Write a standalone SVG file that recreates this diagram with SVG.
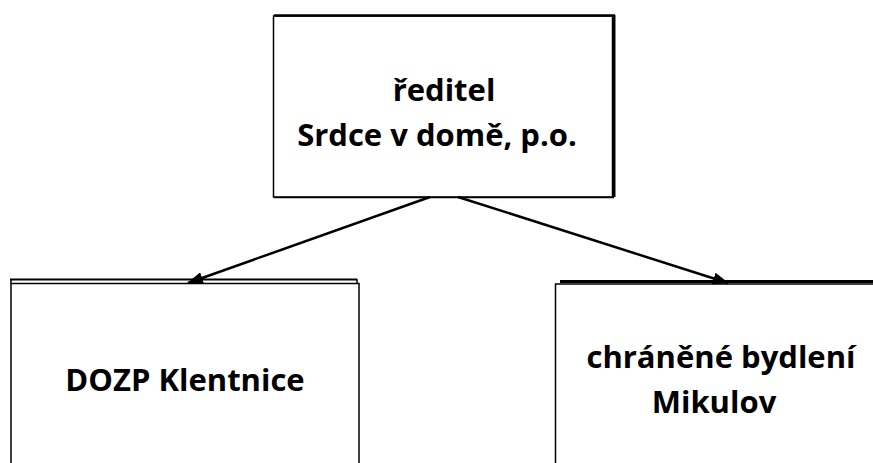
<svg xmlns="http://www.w3.org/2000/svg" width="873" height="463" viewBox="0 0 873 463">
<style>
.box{fill:#fff;stroke:#000;stroke-width:1.5}
.edge{stroke:#000;stroke-width:2.5;fill:none}
.t{font-family:"Open Sans","Liberation Sans",sans-serif;font-weight:bold;font-size:31px;fill:#000;text-anchor:middle}
</style>
<defs>
<marker id="ah" markerWidth="16" markerHeight="12" refX="15" refY="6" orient="auto" markerUnits="userSpaceOnUse" viewBox="0 0 16 12">
<path d="M0,0 L16,6 L0,12 Z" fill="#000"/>
</marker>
</defs>
<rect width="873" height="463" fill="#fff"/>
<g id="director">
<rect class="box" x="273.5" y="16" width="339" height="181"/>
<line x1="274" y1="15.5" x2="615" y2="15.5" stroke="#000" stroke-width="2.5"/>
<line x1="614" y1="15" x2="614" y2="197" stroke="#000" stroke-width="3"/>
<line x1="274" y1="197.5" x2="614" y2="197.5" stroke="#000" stroke-width="1.5"/>
<text class="t" x="444" y="101">ředitel</text>
<text class="t" x="437" y="146">Srdce v domě, p.o.</text>
</g>
<g id="dozp">
<rect class="box" x="11" y="283.5" width="348" height="200"/>
<line x1="10" y1="279.5" x2="357" y2="279.5" stroke="#000" stroke-width="2"/>
<line x1="357" y1="279" x2="357" y2="284" stroke="#000" stroke-width="1.5"/>
<line x1="11" y1="280" x2="11" y2="284" stroke="#000" stroke-width="1.5"/>
<text class="t" x="185" y="391">DOZP Klentnice</text>
</g>
<g id="mikulov">
<rect class="box" x="555.5" y="284" width="340" height="200"/>
<line x1="560" y1="281.5" x2="873" y2="281.5" stroke="#000" stroke-width="3"/>
<text class="t" x="721" y="368">chráněné bydlení</text>
<text class="t" x="714" y="413">Mikulov</text>
</g>
<g id="connectors">
<line class="edge" x1="430" y1="197" x2="188" y2="283" marker-end="url(#ah)"/>
<line class="edge" x1="458" y1="197" x2="728" y2="283" marker-end="url(#ah)"/>
</g>
</svg>
